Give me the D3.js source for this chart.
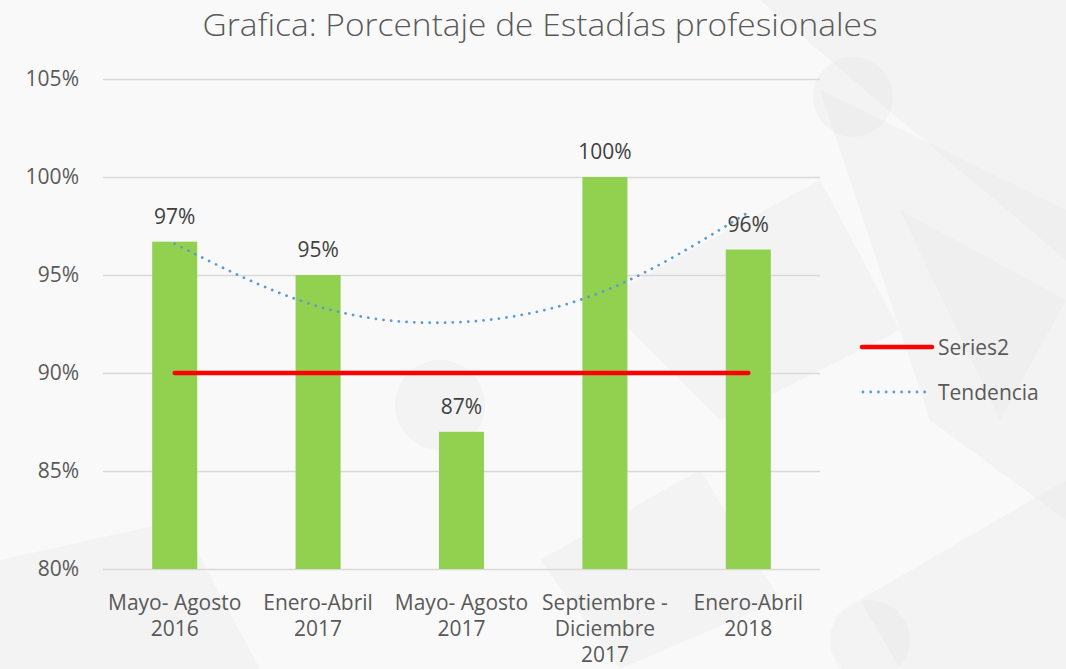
<!DOCTYPE html>
<html>
<head>
<meta charset="utf-8">
<script src="https://cdn.jsdelivr.net/npm/d3@7"></script>
<style>
  html, body { margin: 0; padding: 0; background: #f7f7f7; }
  svg { display: block; font-family: "Open Sans", "DejaVu Sans", sans-serif; }
</style>
</head>
<body>
<div id="chart"></div>
<script>
// chart values
const categories = [
  ["Mayo- Agosto", "2016"],
  ["Enero-Abril", "2017"],
  ["Mayo- Agosto", "2017"],
  ["Septiembre -", "Diciembre", "2017"],
  ["Enero-Abril", "2018"]
];
const porcentaje = [96.7, 95.0, 87.0, 100.0, 96.3];
const barLabels = ["97%", "95%", "87%", "100%", "96%"];
const series2 = [90, 90, 90, 90, 90];
const tendencia = [96.6, 93.4, 92.6, 94.2, 98.2];
const yTicks = [80, 85, 90, 95, 100, 105];
const legendItems = ["Series2", "Tendencia"];

// faint background pattern (decoration only)
const bgShapes = [
  "M760,0 L1066,0 L1066,260 L900,120 Z",
  "M820,90 L1066,210 L1066,520 L930,420 Z",
  "M600,300 L820,180 L900,330 L720,420 Z",
  "M860,600 L1066,480 L1066,669 L900,669 Z",
  "M540,560 L700,470 L780,600 L620,669 Z",
  "M0,560 L180,520 L260,669 L0,669 Z",
  "M900,210 L1066,300 L1000,420 Z"
];
const bgCircles = [[853, 97, 40], [440, 405, 45], [870, 640, 40]];

const width = 1066, height = 669;
const margin = {left: 103, right: 246, top: 79, bottom: 100};
const fs = 21;

const svg = d3.select("#chart").append("svg")
  .attr("width", width)
  .attr("height", height);

svg.append("rect").attr("width", width).attr("height", height).attr("fill", "#f9f9f9");
svg.append("g").selectAll("path").data(bgShapes).join("path")
  .attr("d", d => d).attr("fill", "#e8e8e8").attr("opacity", 0.35);
svg.append("g").selectAll("circle").data(bgCircles).join("circle")
  .attr("cx", d => d[0]).attr("cy", d => d[1]).attr("r", d => d[2])
  .attr("fill", "#e6e6e6").attr("opacity", 0.3);

const x = d3.scaleBand()
  .domain(d3.range(categories.length))
  .range([margin.left, width - margin.right])
  .paddingInner(0.686)
  .paddingOuter(0.343);

const y = d3.scaleLinear()
  .domain([80, 105])
  .range([height - margin.bottom, margin.top]);

const cx = i => x(i) + x.bandwidth() / 2;

// title
svg.append("text")
  .attr("x", 540).attr("y", 36)
  .attr("text-anchor", "middle")
  .attr("font-size", 31)
  .attr("font-weight", 300)
  .attr("fill", "#595959")
  .attr("textLength", 675)
  .attr("lengthAdjust", "spacingAndGlyphs")
  .text("Grafica: Porcentaje de Estadías profesionales");

// gridlines + y labels
const yAxis = d3.axisLeft(y)
  .tickValues(yTicks)
  .tickSize(-(width - margin.left - margin.right))
  .tickPadding(24)
  .tickFormat(d => d + "%");
const gy = svg.append("g")
  .attr("transform", "translate(" + margin.left + ",0)")
  .call(yAxis);
gy.select(".domain").remove();
gy.selectAll(".tick line").attr("stroke", "#d9d9d9").attr("stroke-width", 1.3);
gy.selectAll(".tick text")
  .attr("font-size", fs)
  .attr("fill", "#595959")
  .attr("font-family", "Open Sans, sans-serif");

// bars
svg.append("g").selectAll("rect").data(porcentaje).join("rect")
  .attr("x", (d, i) => x(i))
  .attr("y", d => y(d))
  .attr("width", x.bandwidth())
  .attr("height", d => y(80) - y(d))
  .attr("fill", "#92d050");

// data labels
svg.append("g").selectAll("text").data(porcentaje).join("text")
  .attr("x", (d, i) => cx(i))
  .attr("y", d => y(d) - 18)
  .attr("text-anchor", "middle")
  .attr("font-size", fs)
  .attr("fill", "#404040")
  .text((d, i) => barLabels[i]);

// x axis labels
const xl = svg.append("g").selectAll("text").data(categories).join("text")
  .attr("x", (d, i) => cx(i))
  .attr("y", y(80) + 41)
  .attr("text-anchor", "middle")
  .attr("font-size", fs)
  .attr("fill", "#595959");
xl.selectAll("tspan").data((d, i) => d.map(t => ({t, i}))).join("tspan")
  .attr("x", d => cx(d.i))
  .attr("dy", (d, j) => j === 0 ? 0 : 26)
  .text(d => d.t);

// Series2 line
const line = d3.line().x((d, i) => cx(i)).y(d => y(d));
svg.append("path")
  .datum(series2)
  .attr("d", line)
  .attr("fill", "none")
  .attr("stroke", "#ff0000")
  .attr("stroke-width", 4.5)
  .attr("stroke-linecap", "round");

// trend line (dotted)
const trend = d3.line().x((d, i) => cx(i)).y(d => y(d)).curve(d3.curveNatural);
svg.append("path")
  .datum(tendencia)
  .attr("d", trend)
  .attr("fill", "none")
  .attr("stroke", "#5b9bd5")
  .attr("stroke-width", 2.8)
  .attr("stroke-linecap", "round")
  .attr("stroke-dasharray", "0.01 7.7");

// legend
const lg = svg.append("g").attr("transform", "translate(862,347)");
const li = lg.selectAll("g").data(legendItems).join("g")
  .attr("transform", (d, i) => "translate(0," + i * 45 + ")");
li.append("line")
  .attr("x1", (d, i) => i === 0 ? 0 : 1)
  .attr("x2", (d, i) => i === 0 ? 70 : 64)
  .attr("stroke", (d, i) => i === 0 ? "#ff0000" : "#5b9bd5")
  .attr("stroke-width", (d, i) => i === 0 ? 4.5 : 2.8)
  .attr("stroke-linecap", "round")
  .attr("stroke-dasharray", (d, i) => i === 0 ? null : "0.01 7.7");
li.append("text")
  .attr("x", 76)
  .attr("y", 7.5)
  .attr("font-size", fs)
  .attr("fill", "#595959")
  .text(d => d);
</script>
</body>
</html>
